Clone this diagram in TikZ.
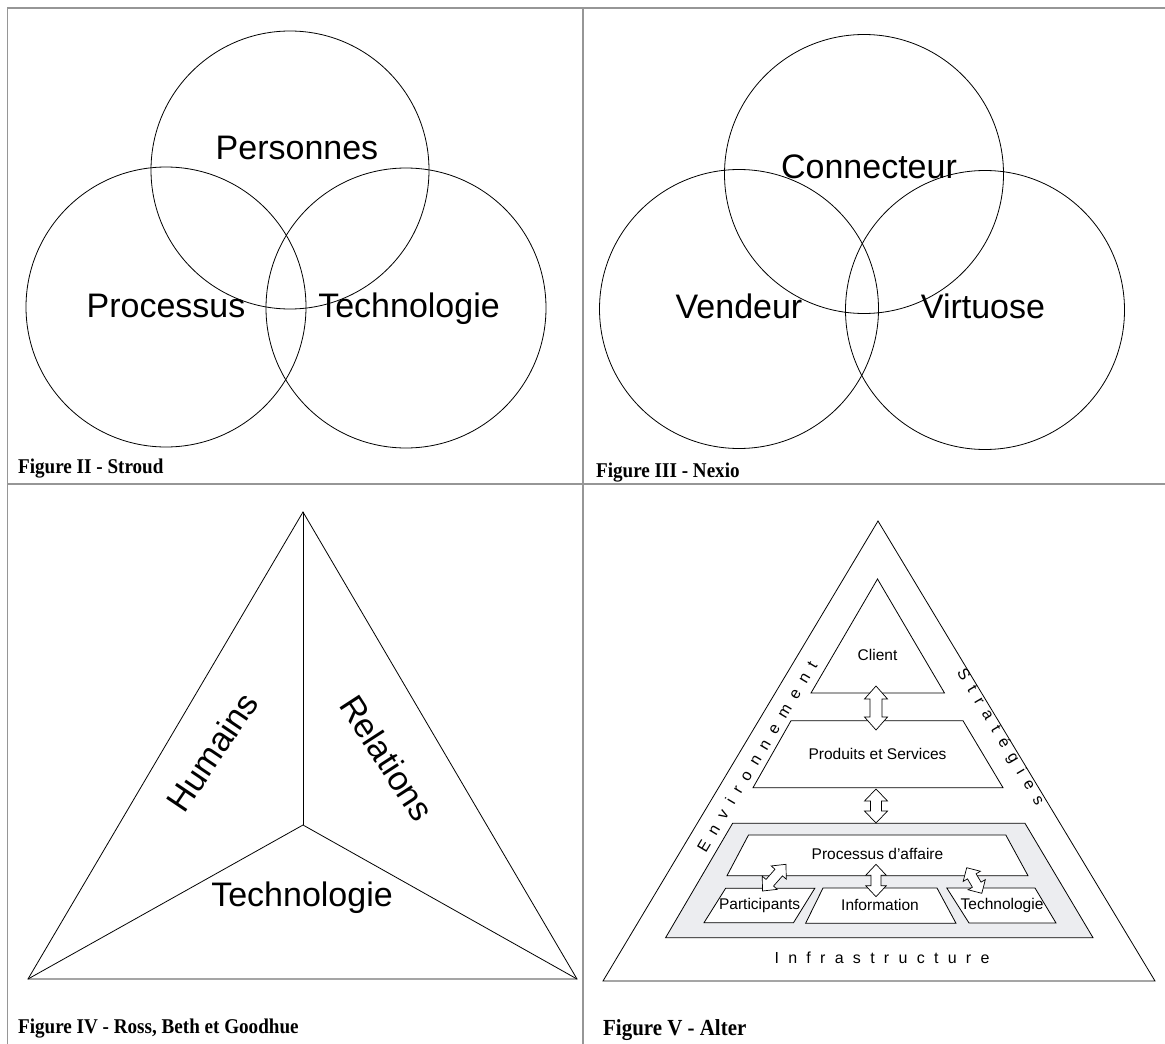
\documentclass[tikz,border=0pt]{standalone}
\usepackage{fontspec}
\setmainfont{Liberation Serif}
\newfontfamily\arial{Liberation Sans}
\newfontfamily\arialspaced[LetterSpace=58]{Liberation Sans}
\usetikzlibrary{calc}

\definecolor{rulegray}{RGB}{150,150,150}
\definecolor{bandgray}{RGB}{236,237,240}

\tikzset{
  frame/.style={draw=rulegray, line width=1.8pt},
  outline/.style={draw=black, line width=0.8pt, line join=miter},
  bigtext/.style={font=\arial\fontsize{34}{40}\selectfont, inner sep=0pt},
  bigbase/.style={bigtext, anchor=base},
  smalltext/.style={font=\arial\fontsize{15.5}{18}\selectfont, inner sep=0pt},
  spacedtext/.style={font=\arialspaced\fontsize{16}{18}\selectfont, inner sep=0pt},
  caption/.style={font=\bfseries\fontsize{21}{24}\selectfont, anchor=base west,
                  inner sep=0pt, xscale=0.91},
  blockarrow/.style={draw=black, line width=0.7pt, fill=white, line join=miter},
}

% double-headed block arrow between two named points:
% #1,#2 ends, #3 head length, #4 head half width, #5 shaft half width
\newcommand\blockarrow[5]{%
  \draw[blockarrow] (#1)
    -- ($(#1)!#3!(#2)!#4!90:(#2)$) -- ($(#1)!#3!(#2)!#5!90:(#2)$)
    -- ($(#2)!#3!(#1)!#5!-90:(#1)$) -- ($(#2)!#3!(#1)!#4!-90:(#1)$)
    -- (#2)
    -- ($(#2)!#3!(#1)!#4!90:(#1)$) -- ($(#2)!#3!(#1)!#5!90:(#1)$)
    -- ($(#1)!#3!(#2)!#5!-90:(#2)$) -- ($(#1)!#3!(#2)!#4!-90:(#2)$)
    -- cycle;}

\begin{document}
\begin{tikzpicture}[x=1pt, y=-1pt]
\useasboundingbox (0,0) rectangle (1165,1044);

% ---------- table rules ----------
\draw[frame] (7.5,1044) -- (7.5,8) -- (1165,8);
\draw[frame] (582.7,8) -- (582.7,1044);
\draw[frame] (7.5,484) -- (1165,484);

% ---------- Figure II : Stroud ----------
\node[outline, circle, minimum size=278pt, inner sep=0pt] (s-top)   at (290,170) {};
\node[outline, circle, minimum size=280pt, inner sep=0pt] (s-left)  at (166,307) {};
\node[outline, circle, minimum size=280pt, inner sep=0pt] (s-right) at (406,308) {};
\node[bigbase] (s-pers) at (297,159) {Personnes};
\node[bigbase] (s-proc) at (166,317) {Processus};
\node[bigbase] (s-tech) at (409,317) {Technologie};
\node[caption] (cap2) at (18,473) {Figure II - Stroud};

% ---------- Figure III : Nexio ----------
\node[outline, circle, minimum size=279pt, inner sep=0pt] (n-top)   at (864,174) {};
\node[outline, circle, minimum size=279pt, inner sep=0pt] (n-left)  at (739,309) {};
\node[outline, circle, minimum size=279pt, inner sep=0pt] (n-right) at (985,310) {};
\node[bigbase] (n-conn) at (869,178) {Connecteur};
\node[bigbase] (n-vend) at (739,318) {Vendeur};
\node[bigbase] (n-virt) at (983,318) {Virtuose};
\node[caption] (cap3) at (596,477) {Figure III - Nexio};

% ---------- Figure IV : Ross, Beth et Goodhue ----------
\coordinate (r-apex)  at (303,512);
\coordinate (r-left)  at (28,979);
\coordinate (r-right) at (577,979);
\coordinate (r-mid)   at (303,825);
\draw[outline] (r-apex) -- (r-left) -- (r-right) -- cycle;
\draw[outline] (r-apex) -- (r-mid);
\draw[outline] (r-left) -- (r-mid) -- (r-right);
\node[bigtext, rotate=56]  (r-hum) at (212,752) {Humains};
\node[bigtext, rotate=-57] (r-rel) at (387,758) {Relations};
\node[bigbase] (r-tech) at (302,906) {Technologie};
\node[caption] (cap4) at (18,1033) {Figure IV - Ross, Beth et Goodhue};

% ---------- Figure V : Alter ----------
\coordinate (a-apex)  at (878,521);
\coordinate (a-left)  at (603,981);
\coordinate (a-right) at (1155,981);
\draw[outline] (a-apex) -- (a-left) -- (a-right) -- cycle;

% client
\draw[outline] (877.5,579) -- (811,693) -- (944.5,693) -- cycle;
\node[smalltext] (a-client) at (877.5,655) {Client};
% products and services
\draw[outline] (791,720.7) -- (963,720.7) -- (1003,787.7) -- (753,787.7) -- cycle;
\node[smalltext] (a-prod) at (877.5,754) {Produits et Services};
% work system band
\draw[outline, fill=bandgray] (732.6,823.3) -- (1025,823.3) -- (1093,937.7) -- (665.6,937.7) -- cycle;
\draw[outline, fill=white] (748.5,835) -- (1005.8,835) -- (1028,875.7) -- (727,875.7) -- cycle;
\node[smalltext] (a-proc) at (877.5,854.3) {Processus d’affaire};
\draw[outline, fill=white] (725.6,888.3) -- (814.8,888.3) -- (793.5,922.7) -- (704,922.7) -- cycle;
\draw[outline, fill=white] (823,888) -- (937,888) -- (956,923.3) -- (805.6,923.3) -- cycle;
\draw[outline, fill=white] (946.8,888) -- (1035,888) -- (1056,923) -- (969,923) -- cycle;
\node[smalltext] (a-part) at (759.6,905) {Participants};
\node[smalltext] (a-info) at (880,905) {Information};
\node[smalltext] (a-tech) at (1002,905) {Technologie};

% side labels
\node[spacedtext, rotate=59.2]  (a-env)  at (757,756.5) {Environnement};
\node[spacedtext, rotate=-59.2] (a-str)  at (1000,737) {Stratégies};
\node[spacedtext]               (a-infra) at (882,958) {Infrastructure};

% connectors
\coordinate (c1a) at (876,686);   \coordinate (c1b) at (876,730);
\coordinate (c2a) at (876,789);   \coordinate (c2b) at (876,823);
\coordinate (c3a) at (876,864.3); \coordinate (c3b) at (876,896.7);
\coordinate (c4a) at (762.5,891); \coordinate (c4b) at (786,864.3);
\coordinate (c5a) at (966.7,867.7); \coordinate (c5b) at (981.8,893.3);
\blockarrow{c1a}{c1b}{13pt}{11.5pt}{6pt}
\blockarrow{c2a}{c2b}{12pt}{11.5pt}{5.5pt}
\blockarrow{c3a}{c3b}{11pt}{10.3pt}{5pt}
\blockarrow{c4a}{c4b}{11pt}{10pt}{5pt}
\blockarrow{c5a}{c5b}{10pt}{10pt}{5pt}

\node[caption, font=\bfseries\fontsize{23}{26}\selectfont] (cap5) at (603,1035) {Figure V - Alter};
\end{tikzpicture}
\end{document}
